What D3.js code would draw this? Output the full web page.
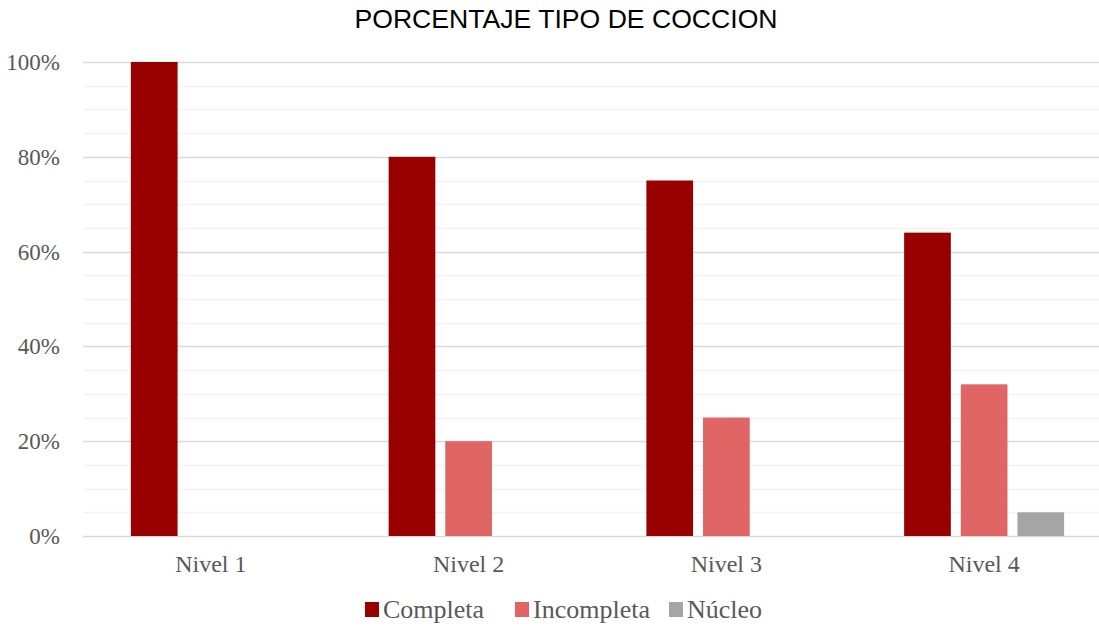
<!DOCTYPE html>
<html>
<head>
<meta charset="utf-8">
<script src="https://cdn.jsdelivr.net/npm/d3@7"></script>
<style>
  body { margin: 0; background: #fff; }
  svg { display: block; }
</style>
</head>
<body>
<script>
var categories = ["Nivel 1", "Nivel 2", "Nivel 3", "Nivel 4"];
var seriesNames = ["Completa", "Incompleta", "Núcleo"];
var completa = [100, 80, 75, 64];
var incompleta = [0, 20, 25, 32];
var nucleo = [0, 0, 0, 5];
var yTicks = [0, 20, 40, 60, 80, 100];
var colors = ["#990000", "#E06666", "#A5A5A5"];

var width = 1099, height = 626;
var plotLeft = 82, plotRight = 1113, plotTop = 62, plotBottom = 536;

var svg = d3.select("body").append("svg")
    .attr("width", width)
    .attr("height", height);

var x = d3.scaleBand()
    .domain(categories)
    .range([plotLeft, plotRight])
    .paddingInner(0)
    .paddingOuter(0);

var xs = d3.scaleBand()
    .domain(seriesNames)
    .range([0, 160])
    .paddingInner(10 / 57);

var y = d3.scaleLinear()
    .domain([0, 100])
    .range([plotBottom, plotTop]);

// minor gridlines
svg.append("g").selectAll("line")
    .data(d3.range(5, 100, 5).filter(function(d){ return d % 20 != 0; }))
    .enter().append("line")
    .attr("x1", 83).attr("x2", width)
    .attr("y1", function(d){ return Math.round(y(d)) + 0.5; })
    .attr("y2", function(d){ return Math.round(y(d)) + 0.5; })
    .attr("stroke", "#F2F2F2")
    .attr("stroke-width", 1.5);

// major gridlines
svg.append("g").selectAll("line")
    .data(yTicks)
    .enter().append("line")
    .attr("x1", 83).attr("x2", width)
    .attr("y1", function(d){ return Math.round(y(d)) + 0.5; })
    .attr("y2", function(d){ return Math.round(y(d)) + 0.5; })
    .attr("stroke", "#D9D9D9")
    .attr("stroke-width", 1.5);

// y labels
svg.append("g").selectAll("text")
    .data(yTicks)
    .enter().append("text")
    .attr("x", 60)
    .attr("y", function(d){ return y(d) + 8; })
    .attr("text-anchor", "end")
    .attr("font-family", "Liberation Serif, Times New Roman, serif")
    .attr("font-size", 23)
    .attr("fill", "#595959")
    .text(function(d){ return d + "%"; });

// bars
var rows = categories.map(function(c, i){
    return {cat: c, values: [completa[i], incompleta[i], nucleo[i]]};
});

var groups = svg.append("g").selectAll("g")
    .data(rows)
    .enter().append("g")
    .attr("transform", function(d){
        return "translate(" + (x(d.cat) + x.bandwidth() / 2 - 80) + ",0)";
    });

groups.selectAll("rect")
    .data(function(d){
        return d.values.map(function(v, j){ return {name: seriesNames[j], v: v, j: j}; })
            .filter(function(o){ return o.v > 0; });
    })
    .enter().append("rect")
    .attr("x", function(d){ return xs(d.name); })
    .attr("width", xs.bandwidth())
    .attr("y", function(d){ return y(d.v); })
    .attr("height", function(d){ return y(0) - y(d.v); })
    .attr("fill", function(d){ return colors[d.j]; });

// category labels
svg.append("g").selectAll("text")
    .data(categories)
    .enter().append("text")
    .attr("x", function(d){ return x(d) + x.bandwidth() / 2; })
    .attr("y", 572)
    .attr("text-anchor", "middle")
    .attr("font-family", "Liberation Serif, Times New Roman, serif")
    .attr("font-size", 24)
    .attr("fill", "#595959")
    .text(function(d){ return d; });

// title
svg.append("text")
    .attr("x", 566)
    .attr("y", 28)
    .attr("text-anchor", "middle")
    .attr("font-family", "Liberation Sans, Arial, sans-serif")
    .attr("font-size", 26.6)
    .attr("fill", "#000")
    .text("PORCENTAJE TIPO DE COCCION");

// legend
var legendX = [365, 515, 669];
var legend = svg.append("g").selectAll("g")
    .data(seriesNames)
    .enter().append("g")
    .attr("transform", function(d, i){ return "translate(" + legendX[i] + ",602)"; });

legend.append("rect")
    .attr("width", 14).attr("height", 15)
    .attr("fill", function(d, i){ return colors[i]; });

legend.append("text")
    .attr("x", 18)
    .attr("y", 16)
    .attr("font-family", "Liberation Serif, Times New Roman, serif")
    .attr("font-size", 26)
    .attr("fill", "#595959")
    .text(function(d){ return d; });
</script>
</body>
</html>
